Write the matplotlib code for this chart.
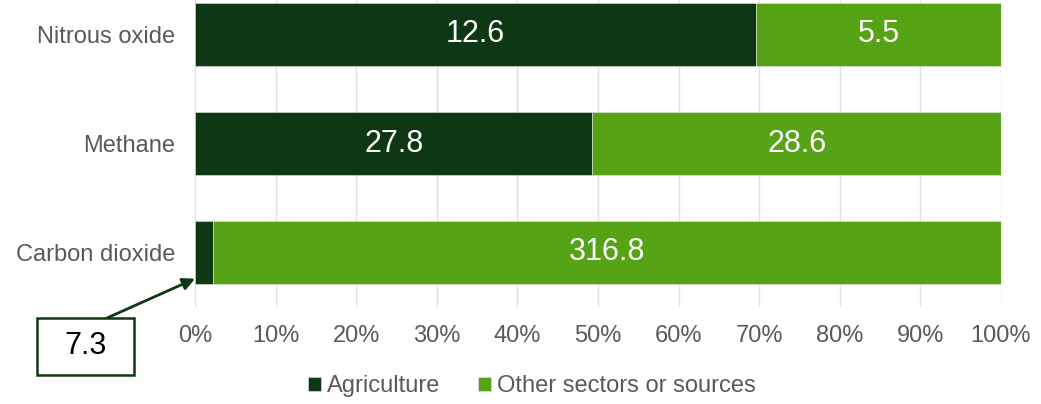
import matplotlib.pyplot as plt
from matplotlib.patches import Rectangle
import numpy as np

plt.rcParams['font.family'] = ['Liberation Sans', 'DejaVu Sans']

categories = ["Carbon dioxide", "Methane", "Nitrous oxide"]
agriculture = [7.3, 27.8, 12.6]
other = [316.8, 28.6, 5.5]

darkGreen = "#0e3813"
lightGreen = "#56a316"
textGrey = "#595959"

agri = np.array(agriculture)
oth = np.array(other)
total = agri + oth
agriPct = agri / total * 100
othPct = oth / total * 100

W, H = 1041, 404
fig = plt.figure(figsize=(W / 100, H / 100), dpi=100)
ax = fig.add_axes([195 / W, (H - 307) / H, (1001 - 195) / W, (307 + 20) / H])

y = np.arange(len(categories))
barH = 0.57
ax.barh(y, agriPct, height=barH, color=darkGreen, label="Agriculture", zorder=3,
        edgecolor="#e6e6e6", linewidth=0.4)
ax.barh(y, othPct, left=agriPct, height=barH, color=lightGreen,
        label="Other sectors or sources", zorder=3, edgecolor="#e6e6e6", linewidth=0.4)

for i in range(len(categories)):
    if agriPct[i] > 10:
        ax.text(agriPct[i] / 2, y[i], f"{agriculture[i]}", color="white",
                ha="center", va="center", fontsize=22, zorder=4)
    ax.text(agriPct[i] + othPct[i] / 2, y[i], f"{other[i]}", color="white",
            ha="center", va="center", fontsize=22, zorder=4)

# callout box for the thin CO2 agriculture segment (figure pixels, top-left origin)
bx0, by0, bx1, by1 = 37, 318, 134, 375
fig.patches.append(Rectangle((bx0 / W, (H - by1) / H), (bx1 - bx0) / W, (by1 - by0) / H,
                             transform=fig.transFigure, fc="white", ec=darkGreen, lw=1.8))
fig.text((bx0 + bx1) / 2 / W, (H - (by0 + by1) / 2) / H, "7.3", fontsize=22,
         ha="center", va="center", color="black")
ax.annotate("", xy=(0, y[0] - 0.24), xycoords="data",
            xytext=(107 / W, (H - by0) / H), textcoords="figure fraction",
            arrowprops=dict(arrowstyle="-|>", color=darkGreen, lw=2,
                            mutation_scale=18, shrinkA=0, shrinkB=0),
            annotation_clip=False)

ax.set_xlim(0, 100)
ax.set_ylim(-0.5, 2.5)
ax.set_yticks(y)
ax.set_yticklabels(categories, fontsize=17, color=textGrey)
ax.set_xticks(np.arange(0, 101, 10))
ax.set_xticklabels([f"{v}%" for v in range(0, 101, 10)], fontsize=17, color=textGrey)
ax.tick_params(length=0)
ax.tick_params(axis="x", pad=13)
ax.tick_params(axis="y", pad=14)
ax.grid(axis="x", color="#e0e0e0", lw=1, zorder=0)
for s in ax.spines.values():
    s.set_visible(False)

leg = fig.legend(loc="center", bbox_to_anchor=(0.5 + 11 / W, (H - 386) / H), ncol=2,
                 frameon=False, fontsize=17, handlelength=0.55, handleheight=0.55,
                 handletextpad=0.25, columnspacing=1.6)
for t in leg.get_texts():
    t.set_color(textGrey)

fig.savefig("out.png", dpi=100)
